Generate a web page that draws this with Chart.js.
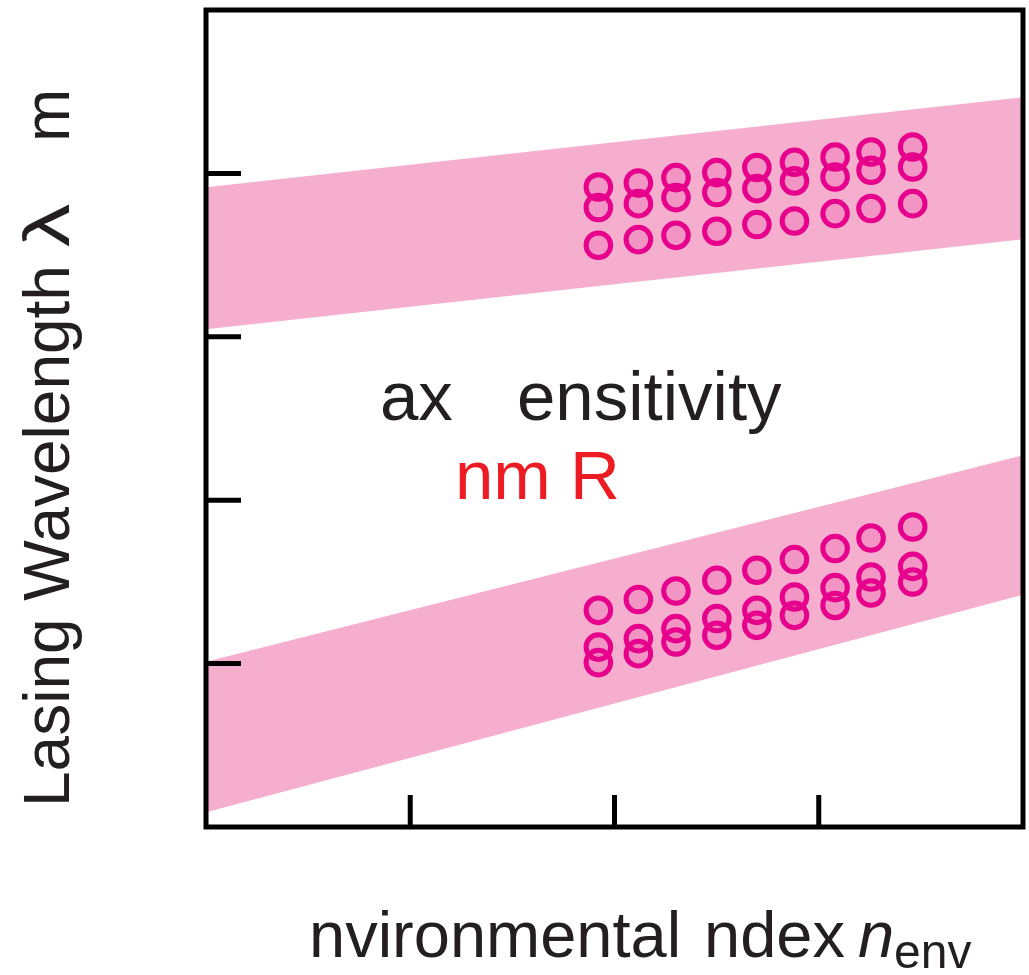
<!DOCTYPE html>
<html>
<head>
<meta charset="utf-8">
<script src="https://cdn.jsdelivr.net/npm/chart.js@4.4.1/dist/chart.umd.min.js"></script>
<style>
  html, body { margin: 0; padding: 0; background: #fff; }
  canvas { display: block; }
</style>
</head>
<body>
<canvas id="chart" width="1029" height="975"></canvas>
<script>
// environmental index positions of the measured columns (axis units)
const nEnv = [1.921, 2.117, 2.301, 2.501, 2.697, 2.881, 3.080, 3.256, 3.460];

// upper mode: three measured peaks per column
const upperA = [3.917, 3.941, 3.974, 4.005, 4.036, 4.068, 4.100, 4.131, 4.162];
const upperB = [3.791, 3.815, 3.852, 3.883, 3.907, 3.954, 3.978, 4.019, 4.039];
const upperC = [3.560, 3.595, 3.621, 3.646, 3.687, 3.709, 3.754, 3.785, 3.815];

// lower mode
const lowerA = [1.326, 1.392, 1.444, 1.510, 1.571, 1.637, 1.704, 1.769, 1.836];
const lowerB = [1.101, 1.153, 1.214, 1.276, 1.326, 1.408, 1.465, 1.530, 1.595];
const lowerC = [1.006, 1.061, 1.132, 1.173, 1.234, 1.295, 1.356, 1.432, 1.499];

// shaded tuning bands, edges at the two ends of the x range
const bandX = [0, 4];
const upperBandTop = [3.915, 4.466];
const upperBandBottom = [3.046, 3.597];
const lowerBandTop = [1.011, 2.275];
const lowerBandBottom = [0.090, 1.422];

const xTicks = [1, 2, 3];
const yTicks = [1, 2, 3, 4];

const BAND = '#f5aecd';
const DOT = '#e6008c';
const INK = '#231f20';

const toPts = (xs, ys) => xs.map((x, i) => ({ x: x, y: ys[i] }));

// bands get a higher order so they are painted under the markers
function bandSet(ys, fill) {
  return {
    data: toPts(bandX, ys),
    order: 2,
    borderWidth: 0,
    borderColor: 'rgba(0,0,0,0)',
    backgroundColor: BAND,
    pointRadius: 0,
    tension: 0,
    fill: fill
  };
}

function dotSet(rows) {
  let pts = [];
  rows.forEach(r => { pts = pts.concat(toPts(nEnv, r)); });
  return {
    data: pts,
    order: 0,
    showLine: false,
    fill: false,
    pointStyle: 'circle',
    pointRadius: 12.3,
    pointHoverRadius: 12.3,
    pointBorderWidth: 5,
    pointBorderColor: DOT,
    pointBackgroundColor: 'rgba(230,0,140,0.14)',
    borderColor: DOT,
    backgroundColor: 'rgba(230,0,140,0.14)'
  };
}

// frame with inward ticks, plus the labels
const framePlugin = {
  id: 'frame',
  afterDatasetsDraw(chart) {
    const ctx = chart.ctx;
    const a = chart.chartArea;
    const xs = chart.scales.x, ys = chart.scales.y;
    ctx.save();
    ctx.strokeStyle = '#000';
    ctx.lineWidth = 5;
    ctx.lineCap = 'butt';
    ctx.strokeRect(a.left, a.top, a.right - a.left, a.bottom - a.top);
    ctx.beginPath();
    yTicks.forEach(v => {
      const py = ys.getPixelForValue(v);
      ctx.moveTo(a.left, py);
      ctx.lineTo(a.left + 35, py);
    });
    xTicks.forEach(v => {
      const px = xs.getPixelForValue(v);
      ctx.moveTo(px, a.bottom);
      ctx.lineTo(px, a.bottom - 32);
    });
    ctx.stroke();
    ctx.restore();
  },
  afterDraw(chart) {
    const ctx = chart.ctx;
    const face = '"Liberation Sans", Arial, Helvetica, sans-serif';
    ctx.save();
    ctx.textBaseline = 'alphabetic';
    ctx.textAlign = 'left';
    ctx.fillStyle = INK;

    // y axis title, reads bottom to top
    ctx.save();
    ctx.translate(69, 807);
    ctx.rotate(-Math.PI / 2);
    ctx.font = '64px ' + face;
    ctx.fillText('Lasing Wavelength', 0, 0);
    ctx.fillText('m', 665, 0);
    ctx.translate(560, 0);
    ctx.scale(1.35, 1);
    ctx.fillText('\u03bb', 0, 0);
    ctx.restore();

    // x axis title
    ctx.font = '65px ' + face;
    ctx.fillText('nvironmental', 309, 957);
    ctx.fillText('ndex', 704, 957);
    ctx.font = 'italic 65px ' + face;
    ctx.fillText('n', 858, 957);
    ctx.font = '48px ' + face;
    ctx.fillText('env', 894, 968);

    // annotation
    ctx.font = '69px ' + face;
    ctx.fillText('ax', 380, 420);
    ctx.fillText('ensitivity', 517, 420);
    ctx.fillStyle = '#ed1c24';
    ctx.fillText('nm R', 455, 499);
    ctx.restore();
  }
};

new Chart(document.getElementById('chart'), {
  type: 'line',
  data: {
    datasets: [
      bandSet(upperBandTop, '+1'),
      bandSet(upperBandBottom, false),
      bandSet(lowerBandTop, '+1'),
      bandSet(lowerBandBottom, false),
      dotSet([upperA, upperB, upperC]),
      dotSet([lowerA, lowerB, lowerC])
    ]
  },
  options: {
    responsive: false,
    animation: false,
    events: [],
    layout: { autoPadding: false, padding: { left: 206, right: 6, top: 10, bottom: 148 } },
    plugins: {
      legend: { display: false },
      tooltip: { enabled: false },
      title: { display: false }
    },
    scales: {
      x: { type: 'linear', min: 0, max: 4, display: false },
      y: { type: 'linear', min: 0, max: 5, display: false }
    }
  },
  plugins: [framePlugin]
});
</script>
</body>
</html>
